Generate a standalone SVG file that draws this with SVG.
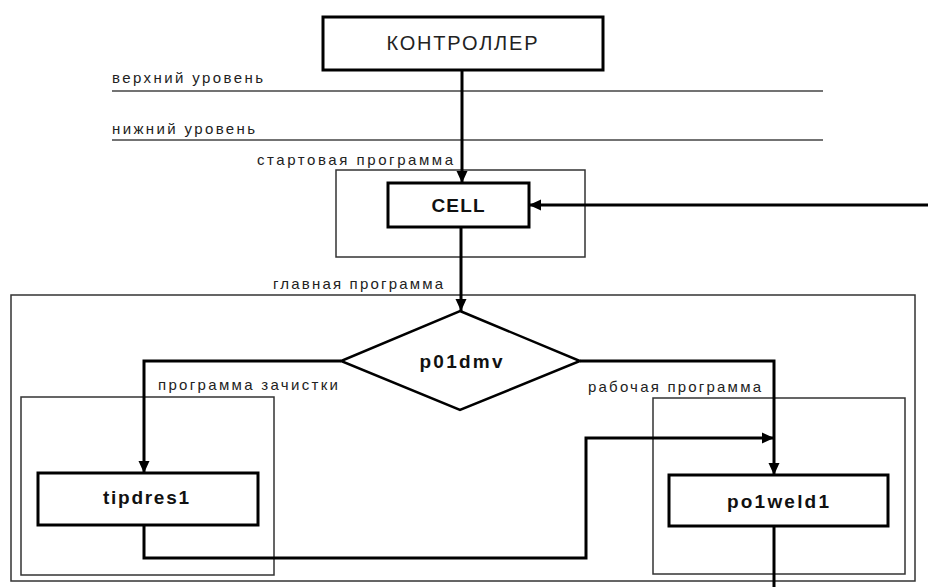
<svg xmlns="http://www.w3.org/2000/svg" width="928" height="587" viewBox="0 0 928 587">
<style>
.node{fill:#fff;stroke:#000;stroke-width:3}
.grp{fill:none;stroke:#333;stroke-width:1.5}
.lvl{stroke:#444;stroke-width:1.5}
.conn{fill:none;stroke:#000;stroke-width:3}
.lbl{font-family:"Liberation Sans",Arial,sans-serif;font-size:15px;fill:#222}
.nt{font-family:"Liberation Sans",Arial,sans-serif;font-size:19px;font-weight:bold;fill:#111;text-anchor:middle}
</style>
<defs>
<marker id="ah" viewBox="0 0 12 12" refX="12" refY="6" markerWidth="12" markerHeight="12" markerUnits="userSpaceOnUse" orient="auto">
<path d="M0,0.5 L12,6 L0,11.5 Z" fill="#000"/>
</marker>
</defs>
<rect width="928" height="587" fill="#fff"/>
<g id="levels">
<line class="lvl" x1="112" y1="91" x2="823" y2="91"/>
<line class="lvl" x1="112" y1="140" x2="823" y2="140"/>
<text class="lbl" x="112" y="83" textLength="151" lengthAdjust="spacing">верхний уровень</text>
<text class="lbl" x="112" y="134" textLength="143" lengthAdjust="spacing">нижний уровень</text>
</g>
<g id="groups">
<rect class="grp" x="336" y="170" width="249" height="87"/>
<text class="lbl" x="257" y="165" textLength="196" lengthAdjust="spacing">стартовая программа</text>
<rect class="grp" x="11" y="295" width="904" height="286"/>
<text class="lbl" x="273" y="289" textLength="170" lengthAdjust="spacing">главная программа</text>
<rect class="grp" x="21" y="397" width="253" height="178"/>
<text class="lbl" x="158" y="390" textLength="180" lengthAdjust="spacing">программа зачистки</text>
<rect class="grp" x="653" y="398" width="252" height="176"/>
<text class="lbl" x="588" y="392" textLength="173" lengthAdjust="spacing">рабочая программа</text>
</g>
<g id="connectors">
<path class="conn" d="M462,70 V183" marker-end="url(#ah)"/>
<path class="conn" d="M928,205 H529" marker-end="url(#ah)"/>
<path class="conn" d="M461,227 V311" marker-end="url(#ah)"/>
<path class="conn" d="M341,361 H144 V473" marker-end="url(#ah)"/>
<path class="conn" d="M580,361 H774 V475" marker-end="url(#ah)"/>
<path class="conn" d="M144,525 V558 H586 V438 H774" marker-end="url(#ah)"/>
<path class="conn" d="M774,526 V587"/>
</g>
<g id="controller">
<rect class="node" x="323" y="17" width="280" height="53"/>
<text x="462" y="50" text-anchor="middle" font-family="'Liberation Sans',Arial,sans-serif" font-size="20" fill="#222" textLength="151" lengthAdjust="spacing">КОНТРОЛЛЕР</text>
</g>
<g id="cell">
<rect class="node" x="388" y="183" width="141" height="44"/>
<text x="458" y="212" text-anchor="middle" font-family="'Liberation Sans',Arial,sans-serif" font-size="19" font-weight="bold" fill="#111" textLength="53" lengthAdjust="spacing">CELL</text>
</g>
<g id="p01dmv">
<polygon points="460,311 580,361 460,410 341,361" fill="#fff" stroke="#000" stroke-width="2.5"/>
<text class="nt" x="461" y="368" textLength="83" lengthAdjust="spacing">p01dmv</text>
</g>
<g id="tipdres1">
<rect class="node" x="38" y="473" width="220" height="52"/>
<text class="nt" x="146" y="504" textLength="86" lengthAdjust="spacing">tipdres1</text>
</g>
<g id="po1weld1">
<rect class="node" x="669" y="475" width="219" height="51"/>
<text class="nt" x="778" y="508" textLength="102" lengthAdjust="spacing">po1weld1</text>
</g>
</svg>
